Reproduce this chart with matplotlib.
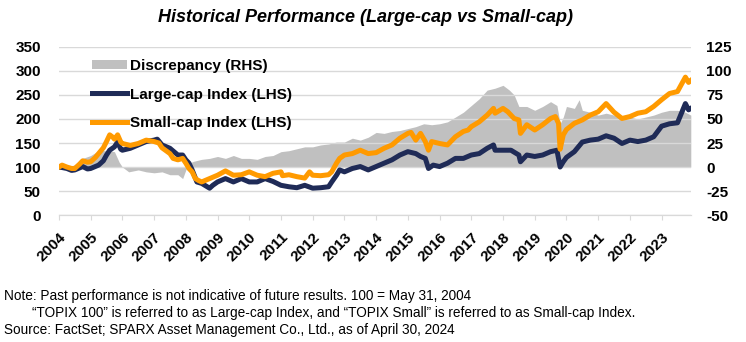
import numpy as np
from matplotlib import pyplot as plt

# years since 31 May 2004
small_t = [0, 0.1, 0.25, 0.4, 0.5, 0.65, 0.75, 0.9, 1.0, 1.15, 1.25, 1.4, 1.5, 1.6, 1.7, 1.75, 1.85, 1.95,
           2.0, 2.25, 2.5, 2.75, 3.0, 3.15, 3.25, 3.5, 3.6, 3.75, 3.9, 4.0, 4.1, 4.2, 4.3, 4.4, 4.5, 4.75,
           5.0, 5.25, 5.5, 5.75, 6.0, 6.25, 6.5, 6.75, 7.0, 7.05, 7.25, 7.5, 7.75, 7.9, 8.0, 8.25, 8.5, 8.6,
           8.75, 8.85, 9.0, 9.25, 9.5, 9.75, 10.0, 10.25, 10.5, 10.75, 11.0, 11.1, 11.25, 11.4, 11.55, 11.65,
           11.75, 12.0, 12.25, 12.5, 12.75, 12.9, 13.0, 13.25, 13.5, 13.7, 13.75, 14.0, 14.15, 14.35, 14.5,
           14.55, 14.75, 15.0, 15.25, 15.5, 15.65, 15.75, 15.8, 15.9, 16.0, 16.25, 16.5, 16.75, 17.0, 17.25,
           17.5, 17.75, 18.0, 18.25, 18.5, 18.75, 19.0, 19.25, 19.5, 19.75, 19.85, 19.92]
small_cap = [100, 104, 100, 97, 97, 106, 113, 110, 111, 120, 128, 140, 153, 167, 162, 158, 167, 152,
             149, 145, 149, 156, 153, 150, 140, 128, 118, 115, 118, 108, 97, 90, 76, 72, 69, 76,
             83, 92, 83, 84, 90, 83, 80, 87, 90, 82, 84, 80, 77, 90, 83, 82, 84, 90,
             108, 118, 125, 128, 135, 128, 130, 139, 146, 160, 170, 172, 156, 170, 153, 135,
             153, 149, 146, 163, 174, 177, 184, 194, 208, 222, 212, 222, 215, 201, 198,
             170, 188, 177, 188, 201, 205, 191, 137, 167, 178, 191, 198, 208, 215, 232,
             214, 201, 205, 212, 215, 226, 240, 253, 257, 287, 276, 280]

large_t = [0, 0.1, 0.25, 0.4, 0.5, 0.75, 0.9, 1.0, 1.25, 1.4, 1.5, 1.6, 1.75, 1.85, 1.95, 2.0, 2.25, 2.5,
           2.75, 3.0, 3.1, 3.25, 3.5, 3.75, 3.9, 4.0, 4.1, 4.2, 4.35, 4.5, 4.75, 4.85, 5.0, 5.25, 5.5, 5.75,
           6.0, 6.25, 6.5, 6.75, 7.0, 7.25, 7.5, 7.75, 8.0, 8.25, 8.5, 8.6, 8.75, 8.85, 9.0, 9.25, 9.5, 9.75,
           10.0, 10.25, 10.5, 10.75, 11.0, 11.25, 11.4, 11.55, 11.65, 11.8, 12.0, 12.25, 12.5, 12.75, 13.0,
           13.25, 13.5, 13.7, 13.75, 14.0, 14.25, 14.5, 14.55, 14.75, 15.0, 15.25, 15.5, 15.7, 15.8, 15.9,
           16.0, 16.25, 16.5, 16.75, 17.0, 17.25, 17.5, 17.75, 18.0, 18.25, 18.5, 18.75, 19.0, 19.25, 19.5,
           19.75, 19.85, 19.92]
large_cap = [100, 99, 97, 93, 94, 101, 96, 97, 104, 113, 125, 135, 142, 152, 137, 135, 139, 146,
             153, 156, 158, 146, 139, 125, 125, 115, 108, 94, 69, 66, 56, 62, 69, 76, 69, 76,
             69, 69, 76, 70, 62, 59, 57, 62, 56, 57, 59, 69, 83, 94, 90, 97, 101, 94,
             101, 108, 115, 125, 132, 128, 122, 118, 97, 104, 101, 108, 118, 118, 125,
             128, 139, 146, 135, 135, 135, 125, 111, 125, 122, 125, 132, 135, 100, 111,
             120, 132, 152, 156, 158, 165, 160, 149, 156, 153, 156, 163, 185, 190, 192,
             232, 219, 222]

disc_t = [0, 0.25, 0.5, 0.75, 1.0, 1.25, 1.5, 1.75, 1.9, 2.0, 2.2, 2.5, 2.75, 3.0, 3.25, 3.5, 3.75, 3.9,
          4.0, 4.1, 4.25, 4.5, 4.75, 5.0, 5.25, 5.5, 5.75, 6.0, 6.25, 6.5, 6.75, 7.0, 7.25, 7.5, 7.75, 8.0,
          8.25, 8.5, 8.75, 9.0, 9.25, 9.5, 9.75, 10.0, 10.25, 10.5, 10.75, 11.0, 11.25, 11.5, 11.75, 12.0,
          12.25, 12.5, 12.75, 13.0, 13.25, 13.5, 13.75, 14.0, 14.2, 14.35, 14.5, 14.75, 15.0, 15.25, 15.5,
          15.7, 15.8, 15.9, 16.0, 16.25, 16.4, 16.5, 16.75, 17.0, 17.25, 17.5, 17.75, 18.0, 18.25, 18.5,
          18.75, 19.0, 19.25, 19.5, 19.75, 19.92]
discrepancy = [0, 1, 2, 9, 12, 17, 17, 16, 5, 0, -5, -3, -5, -6, -5, -8, -8, -12,
               -3, 4, 6, 8, 9, 11, 9, 12, 9, 9, 8, 11, 12, 16, 17, 19, 21, 21,
               23, 24, 26, 26, 30, 28, 31, 36, 35, 37, 38, 40, 42, 45, 44, 45,
               47, 52, 57, 64, 71, 80, 82, 85, 80, 75, 63, 63, 59, 63, 68,
               64, 45, 52, 63, 61, 70, 59, 57, 54, 56, 54, 52, 52, 50, 52,
               54, 57, 59, 59, 57, 54]

years = list(range(2004, 2024))

navy = '#1F2B57'
orange = '#FF9A00'
grey = '#C0C0C0'

plt.rcParams['font.family'] = ['Liberation Sans', 'DejaVu Sans']
plt.rcParams['axes.unicode_minus'] = False

fig = plt.figure(figsize=(7.46, 3.42), dpi=100)
ax = fig.add_axes([0.079, 0.371, 0.847, 0.492])
ax2 = ax.twinx()

# grey area on the right axis, lines on the left axis drawn on top
ax2.fill_between(disc_t, 0, discrepancy, color=grey, lw=0, label='Discrepancy (RHS)')
ax2.set_ylim(-50, 125)
ax2.set_yticks(np.arange(-50, 126, 25))

ax.set_zorder(ax2.get_zorder() + 1)
ax.patch.set_visible(False)
ax.plot(large_t, large_cap, color=navy, lw=3.6, label='Large-cap Index (LHS)')
ax.plot(small_t, small_cap, color=orange, lw=3.6, label='Small-cap Index (LHS)')
ax.set_ylim(0, 350)
ax.set_yticks(np.arange(0, 351, 50))
ax.set_xlim(0, 19.92)
ax.set_xticks(range(len(years)))
ax.set_xticklabels([str(y) for y in years], rotation=45, ha='right', rotation_mode='anchor')

ax.grid(axis='y', color='#D9D9D9', lw=1)
ax.set_axisbelow(True)
for a in (ax, ax2):
    for s in ('top', 'left', 'right'):
        a.spines[s].set_visible(False)
    a.spines['bottom'].set_color('#D9D9D9')
ax.tick_params(axis='y', length=0, pad=13, labelsize=11)
ax.tick_params(axis='x', length=3.6, color='#D9D9D9', pad=7, labelsize=11)
ax2.tick_params(axis='y', length=0, pad=11, labelsize=11)
for lab in ax.get_yticklabels() + ax.get_xticklabels() + ax2.get_yticklabels():
    lab.set_fontweight('bold')
for lab in ax2.get_yticklabels():
    lab.set_ha('left')

h1, l1 = ax2.get_legend_handles_labels()
h2, l2 = ax.get_legend_handles_labels()
ax.legend(h1 + h2, l1 + l2, loc='upper left', bbox_to_anchor=(92 / 746, 1 - 59 / 342),
          bbox_transform=fig.transFigure, frameon=False, borderpad=0, borderaxespad=0,
          prop={'weight': 'bold', 'size': 11}, handlelength=2.3, handletextpad=0.2,
          handleheight=0.6, labelspacing=0.95)

fig.text(0.49, 0.95, 'Historical Performance (Large-cap vs Small-cap)', ha='center', va='center',
         fontsize=13, fontweight='bold', fontstyle='italic')

fig.text(0.006, 1 - 296 / 342, 'Note: Past performance is not indicative of future results. 100 = May 31, 2004',
         fontsize=9.8, va='center')
fig.text(0.043, 1 - 313 / 342, '\u201cTOPIX 100\u201d is referred to as Large-cap Index, and \u201cTOPIX Small\u201d '
         'is referred to as Small-cap Index.', fontsize=9.8, va='center')
fig.text(0.006, 1 - 330 / 342, 'Source: FactSet; SPARX Asset Management Co., Ltd., as of April 30, 2024',
         fontsize=9.8, va='center')

fig.savefig('out.png', dpi=100)
plt.close()
